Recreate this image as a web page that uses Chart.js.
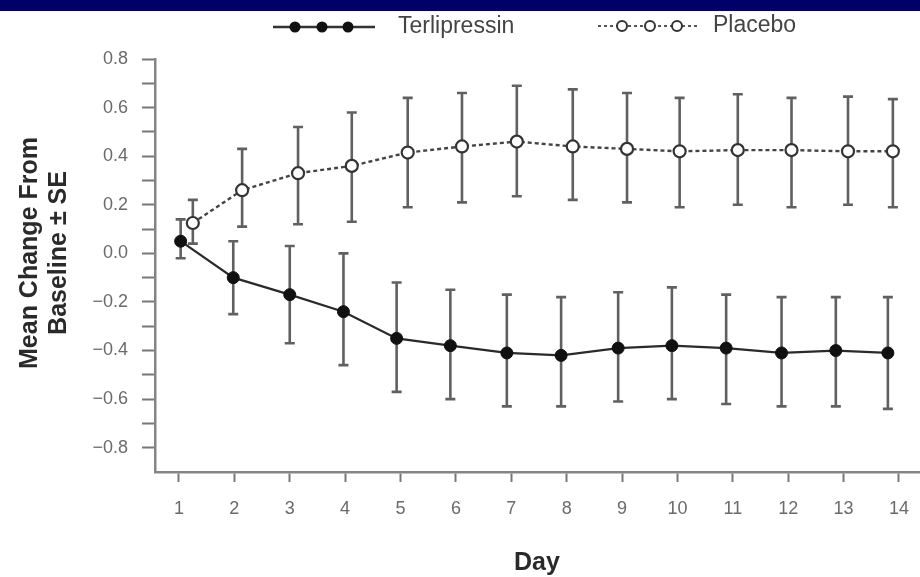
<!DOCTYPE html>
<html>
<head>
<meta charset="utf-8">
<script src="https://cdn.jsdelivr.net/npm/chart.js@4/dist/chart.umd.min.js"></script>
<style>
  html, body { margin: 0; padding: 0; background: #fff; }
  #wrap { position: relative; width: 920px; height: 577px; }
</style>
</head>
<body>
<div id="wrap"><canvas id="c"></canvas></div>
<script>
// ---- data ----
const days = [1,2,3,4,5,6,7,8,9,10,11,12,13,14];
// horizontal placement of each group's marks (slightly dodged around the day)
const terliX   = [1.03,1.98,3.0,3.97,4.93,5.9,6.92,7.9,8.93,9.9,10.88,11.88,12.86,13.8];
const placeboX = [1.25,2.14,3.15,4.12,5.13,6.11,7.1,8.11,9.09,10.04,11.09,12.06,13.08,13.89];

const terliMean = [0.05,-0.10,-0.17,-0.24,-0.35,-0.38,-0.41,-0.42,-0.39,-0.38,-0.39,-0.41,-0.40,-0.41];
const terliHi   = [0.14,0.05,0.03,0.00,-0.12,-0.15,-0.17,-0.18,-0.16,-0.14,-0.17,-0.18,-0.18,-0.18];
const terliLo   = [-0.02,-0.25,-0.37,-0.46,-0.57,-0.60,-0.63,-0.63,-0.61,-0.60,-0.62,-0.63,-0.63,-0.64];

const placeboMean = [0.125,0.26,0.33,0.36,0.415,0.44,0.46,0.44,0.43,0.42,0.425,0.425,0.42,0.42];
const placeboHi   = [0.22,0.43,0.52,0.58,0.64,0.66,0.69,0.675,0.66,0.64,0.655,0.64,0.645,0.635];
const placeboLo   = [0.04,0.11,0.12,0.13,0.19,0.21,0.235,0.22,0.21,0.19,0.20,0.19,0.20,0.19];

const yTickValues = [-0.8,-0.6,-0.4,-0.2,0.0,0.2,0.4,0.6,0.8];
const seriesNames = ['Terlipressin','Placebo'];
const xTitle = 'Day';
const yTitle = ['Mean Change From','Baseline \u00b1 SE'];

// ---- build datasets ----
const pts = (xs, ys) => xs.map((x, i) => ({ x: x, y: ys[i] }));

const FONT = '"Liberation Sans", Arial, Helvetica, sans-serif';

const errorBars = {
  id: 'errorBars',
  beforeDatasetsDraw(chart) {
    const ctx = chart.ctx;
    const xs = chart.scales.x, ys = chart.scales.y;
    const groups = [[terliX, terliLo, terliHi], [placeboX, placeboLo, placeboHi]];
    ctx.save();
    ctx.strokeStyle = '#606060';
    ctx.lineWidth = 2.6;
    groups.forEach(([gx, lo, hi]) => {
      gx.forEach((xv, i) => {
        const px = xs.getPixelForValue(xv);
        const y1 = ys.getPixelForValue(lo[i]);
        const y2 = ys.getPixelForValue(hi[i]);
        ctx.beginPath();
        ctx.moveTo(px, y1); ctx.lineTo(px, y2);
        ctx.moveTo(px - 5, y1); ctx.lineTo(px + 5, y1);
        ctx.moveTo(px - 5, y2); ctx.lineTo(px + 5, y2);
        ctx.stroke();
      });
    });
    ctx.restore();
  }
};

const decor = {
  id: 'decor',
  beforeDraw(chart) {
    const ctx = chart.ctx;
    ctx.save();
    ctx.fillStyle = '#ffffff';
    ctx.fillRect(0, 0, chart.width, chart.height);
    ctx.fillStyle = '#000068';
    ctx.fillRect(0, 0, chart.width, 11);
    ctx.restore();
  },
  afterDraw(chart) {
    const ctx = chart.ctx;
    ctx.save();
    // legend: Terlipressin
    ctx.strokeStyle = '#333';
    ctx.lineWidth = 2.5;
    ctx.beginPath(); ctx.moveTo(273, 27); ctx.lineTo(375, 27); ctx.stroke();
    ctx.fillStyle = '#111';
    [295, 322, 348].forEach(cx => { ctx.beginPath(); ctx.arc(cx, 27, 5.5, 0, Math.PI * 2); ctx.fill(); });
    ctx.font = '23px ' + FONT;
    ctx.fillStyle = '#444';
    ctx.textAlign = 'left';
    ctx.textBaseline = 'alphabetic';
    ctx.fillText(seriesNames[0], 398, 33);
    // legend: Placebo
    ctx.strokeStyle = '#555';
    ctx.lineWidth = 2;
    ctx.setLineDash([3, 3]);
    ctx.beginPath(); ctx.moveTo(598, 26); ctx.lineTo(697, 26); ctx.stroke();
    ctx.setLineDash([]);
    [622, 650, 677].forEach(cx => {
      ctx.beginPath(); ctx.arc(cx, 26, 5, 0, Math.PI * 2);
      ctx.fillStyle = '#fff'; ctx.fill();
      ctx.strokeStyle = '#333'; ctx.lineWidth = 2; ctx.stroke();
    });
    ctx.fillStyle = '#444';
    ctx.fillText(seriesNames[1], 713, 32);

    // axis titles
    ctx.fillStyle = '#2a2a2a';
    ctx.font = 'bold 25px ' + FONT;
    ctx.textAlign = 'center';
    ctx.fillText(xTitle, 537, 570);
    ctx.textBaseline = 'middle';
    ctx.translate(0, 253);
    ctx.rotate(-Math.PI / 2);
    ctx.fillText(yTitle[0], 0, 30);
    ctx.fillText(yTitle[1], 0, 59);
    ctx.restore();
  }
};

const fmt = v => {
  const r = Math.round(v * 10) / 10;
  const s = Math.abs(r).toFixed(1);
  return r < 0 ? '\u2212' + s : s;
};

new Chart(document.getElementById('c'), {
  type: 'line',
  data: {
    datasets: [
      {
        label: seriesNames[0],
        data: pts(terliX, terliMean),
        borderColor: '#2a2a2a',
        borderWidth: 2.2,
        pointRadius: 6,
        pointBackgroundColor: '#111',
        pointBorderColor: '#111',
        pointBorderWidth: 1,
        tension: 0,
        fill: false
      },
      {
        label: seriesNames[1],
        data: pts(placeboX, placeboMean),
        borderColor: '#444',
        borderWidth: 2.4,
        borderDash: [4, 3],
        pointRadius: 6,
        pointBackgroundColor: '#fff',
        pointBorderColor: '#333',
        pointBorderWidth: 2.2,
        tension: 0,
        fill: false
      }
    ]
  },
  options: {
    responsive: true,
    maintainAspectRatio: false,
    animation: false,
    devicePixelRatio: 1,
    layout: { autoPadding: false, padding: { top: 59, left: 0, right: 0, bottom: 0 } },
    plugins: {
      legend: { display: false },
      tooltip: { enabled: false }
    },
    scales: {
      x: {
        type: 'linear',
        min: 0.567,
        max: 14.38,
        afterBuildTicks: s => { s.ticks = days.map(v => ({ value: v })); },
        afterFit: s => { s.height = 105; s.paddingRight = 0; s.paddingLeft = 0; },
        border: { display: true, color: '#858585', width: 2.5 },
        grid: { drawOnChartArea: false, drawTicks: true, tickLength: 10, tickColor: '#777', tickWidth: 2 },
        ticks: {
          color: '#6a6a6a',
          font: { family: FONT, size: 18 },
          padding: 16,
          maxRotation: 0,
          autoSkip: false,
          callback: v => String(v)
        }
      },
      y: {
        min: -0.9,
        max: 0.8,
        afterBuildTicks: s => {
          const t = [];
          for (let k = -8; k <= 8; k++) t.push({ value: k / 10 });
          s.ticks = t;
        },
        afterFit: s => { s.width = 155; },
        border: { display: true, color: '#858585', width: 2.5 },
        grid: { drawOnChartArea: false, drawTicks: true, tickLength: 13, tickColor: '#777', tickWidth: 2 },
        ticks: {
          color: '#6a6a6a',
          font: { family: FONT, size: 18 },
          padding: 14,
          autoSkip: false,
          callback: v => yTickValues.some(t => Math.abs(t - v) < 1e-6) ? fmt(v) : ''
        }
      }
    }
  },
  plugins: [decor, errorBars]
});
</script>
</body>
</html>
